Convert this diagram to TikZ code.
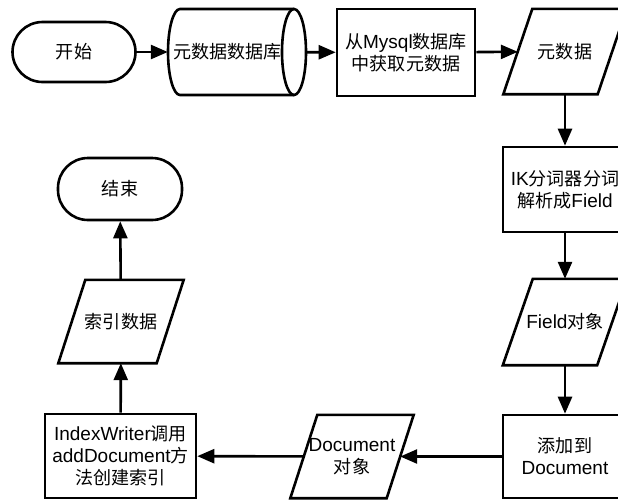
\documentclass[tikz,border=0pt]{standalone}
\usepackage{fontspec}
\setmainfont{Liberation Sans}
\newfontfamily\cjk[Scale=0.95]{Noto Sans CJK SC}
\newcommand\zh[1]{{\cjk #1}}
\usetikzlibrary{arrows.meta,calc}

\tikzset{
  shapeline/.style={line width=2.6pt, line join=miter},
  txt/.style={font=\fontsize{19}{22}\selectfont, align=center, inner sep=0pt},
  terminal/.style={txt, draw, shapeline, rectangle, rounded corners=30pt},
  procbox/.style={txt, draw, shapeline, rectangle},
  databox/.style={txt, rectangle},
  flow/.style={line width=2.6pt, -{Triangle[length=17pt,width=14pt]}},
}

% parallelogram round an undrawn node; #2 = half of the horizontal slant
\newcommand\datashape[2]{%
  \draw[shapeline] ([xshift=#2pt]#1.north west) -- ([xshift=#2pt]#1.north east)
    -- ([xshift=-#2pt]#1.south east) -- ([xshift=-#2pt]#1.south west) -- cycle;}

\begin{document}
\begin{tikzpicture}[x=1pt, y=-1pt]
\useasboundingbox (0,0) rectangle (618,501);
\clip (0,0) rectangle (618,501);

% top row
\node[terminal, minimum width=123pt, minimum height=60pt] (start) at (74,52) {\zh{开始}};
\node[databox, minimum width=138pt, minimum height=86pt] (store) at (237,52) {\zh{元数据数据库}\hspace*{19pt}};
\draw[shapeline] (294,9) -- (180,9) arc[start angle=90, end angle=270, x radius=12pt, y radius=43pt] -- (294,95);
\draw[shapeline] (294,52) ellipse[x radius=12pt, y radius=43pt];
\node[procbox, minimum width=138pt, minimum height=87pt] (fetch) at (406,52.5) {\zh{从}Mysql\zh{数据库}\\\zh{中获取元数据}};
\node[databox, minimum width=94pt, minimum height=85pt] (meta) at (565,51.5) {\zh{元数据}};
\datashape{meta}{14.5}

% right column
\node[procbox, minimum width=124pt, minimum height=85pt] (split) at (565,189.5) {IK\zh{分词器分词}\\\zh{解析成}Field};
\node[databox, minimum width=94pt, minimum height=86pt] (field) at (565,322) {Field\zh{对象}};
\datashape{field}{15}
\node[procbox, minimum width=124pt, minimum height=83pt] (add) at (565,456.5) {\zh{添加到}\\Document};

% bottom row and left column
\node[databox, minimum width=96pt, minimum height=83pt] (doc) at (352,456.5) {Document\\\zh{对象}};
\datashape{doc}{13.5}
\node[procbox, minimum width=151pt, minimum height=84pt] (writer) at (120.5,456) {IndexWriter\zh{调用}\\addDocument\zh{方}\\\zh{法创建索引}};
\node[databox, minimum width=98pt, minimum height=83pt] (index) at (121,321.5) {\zh{索引数据}};
\datashape{index}{13.5}
\node[terminal, minimum width=124pt, minimum height=62pt] (stop) at (120,189) {\zh{结束}};

% connectors
\draw[flow] (start) -- (store);
\draw[flow] (store) -- (fetch);
\draw[flow] (fetch) -- (meta);
\draw[flow] (meta) -- (split);
\draw[flow] (split) -- (field);
\draw[flow] (field) -- (add);
\draw[flow] (add) -- (doc);
\draw[flow] (doc) -- (writer);
\draw[flow] (writer) -- (index);
\draw[flow] (index) -- (stop);
\end{tikzpicture}
\end{document}
